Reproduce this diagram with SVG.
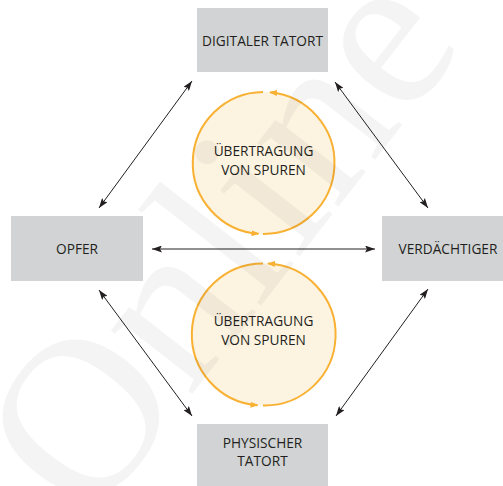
<svg xmlns="http://www.w3.org/2000/svg" width="503" height="486" viewBox="0 0 503 486">
  <defs>
    <style>
      .box { fill: #d1d3d4; }
      .lbl { font-family: "Open Sans", "Liberation Sans", sans-serif; font-size: 13.7px; fill: #231f20; text-anchor: middle; }
      .link { stroke: #231f20; stroke-width: 1; fill: none; marker-start: url(#ah); marker-end: url(#ah); }
      .cycle { fill: #fdf3e1; stroke: none; }
      .arc { stroke: #f8b133; stroke-width: 2; fill: none; marker-end: url(#oh); }
      .mark { font-family: "Liberation Serif", serif; font-size: 225px; fill: #000; fill-opacity: 0.045; }
    </style>
    <marker id="ah" viewBox="0 0 10 7" refX="10" refY="3.5" markerWidth="10" markerHeight="7" markerUnits="userSpaceOnUse" orient="auto-start-reverse">
      <path d="M0,0 L10,3.5 L0,7 L2,3.5 z" fill="#231f20"/>
    </marker>
    <marker id="oh" viewBox="0 0 8 6" refX="7" refY="3" markerWidth="8" markerHeight="6" markerUnits="userSpaceOnUse" orient="auto">
      <path d="M0,0 L8,3 L0,6 z" fill="#f8b133"/>
    </marker>
  </defs>

  <!-- transfer cycles -->
  <g id="cycle-top">
    <circle class="cycle" cx="263.5" cy="163" r="71"/>
    <path class="arc" d="M263,92 A71,71 0 0 0 258.5,233.8"/>
    <path class="arc" d="M263,234 A71,71 0 0 0 270,92.3"/>
    <text class="lbl" x="263.5" y="156">ÜBERTRAGUNG</text>
    <text class="lbl" x="263.5" y="175">VON SPUREN</text>
  </g>
  <g id="cycle-bottom">
    <circle class="cycle" cx="263.5" cy="334.5" r="71"/>
    <path class="arc" d="M263,263.5 A71,71 0 0 0 257.5,405.3"/>
    <path class="arc" d="M263,405.5 A71,71 0 0 0 268,263.6"/>
    <text class="lbl" x="263.5" y="326">ÜBERTRAGUNG</text>
    <text class="lbl" x="263.5" y="345">VON SPUREN</text>
  </g>

  <!-- nodes -->
  <g id="digitaler-tatort">
    <rect class="box" x="197" y="8" width="131" height="64"/>
    <text class="lbl" x="262.5" y="46">DIGITALER TATORT</text>
  </g>
  <g id="opfer">
    <rect class="box" x="11" y="216" width="132" height="65"/>
    <text class="lbl" x="77" y="254">OPFER</text>
  </g>
  <g id="verdaechtiger">
    <rect class="box" x="382" y="216" width="121" height="65"/>
    <text class="lbl" x="448" y="254">VERDÄCHTIGER</text>
  </g>
  <g id="physischer-tatort">
    <rect class="box" x="197" y="424" width="131" height="62"/>
    <text class="lbl" x="262.5" y="448">PHYSISCHER</text>
    <text class="lbl" x="262.5" y="466">TATORT</text>
  </g>

  <!-- connectors -->
  <g id="connectors">
    <line class="link" x1="99" y1="208" x2="192" y2="81"/>
    <line class="link" x1="335" y1="82" x2="428" y2="208"/>
    <line class="link" x1="99" y1="290" x2="192" y2="416"/>
    <line class="link" x1="428" y1="289" x2="336" y2="416"/>
    <line class="link" x1="152" y1="249" x2="375" y2="249"/>
  </g>

  <!-- watermark -->
  <text class="mark" transform="translate(89,526) rotate(-52)">Online</text>
</svg>
